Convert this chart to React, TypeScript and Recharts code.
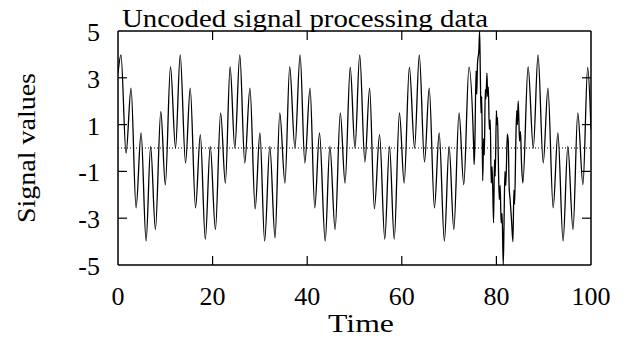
import React from 'react';
import { LineChart, Line, XAxis, YAxis, ReferenceLine } from 'recharts';

// Time stamps of the signal's turning points
const time: number[] = [
  0, 0.63, 1.7, 2.76, 3.82, 4.88, 5.94, 6.9, 7.91, 9.05, 10.0, 11.1,
  12.16, 13.15, 14.28, 15.27, 16.4, 17.4, 18.46, 19.5, 20.6, 21.7, 22.7, 23.7,
  24.7, 25.75, 26.8, 27.9, 29.0, 30.0, 31.0, 32.1, 33.2, 34.2, 35.3, 36.3,
  37.4, 38.5, 39.5, 40.6, 41.6, 42.6, 43.8, 44.8, 45.9, 47.0, 48.0, 49.1,
  50.1, 51.1, 52.2, 53.2, 54.2, 55.3, 56.4, 57.4, 58.4, 59.5, 60.5, 61.6,
  62.7, 63.7, 64.8, 65.8, 66.9, 67.9, 69.0, 70.0, 71.0, 72.1, 73.1, 74.2,
  75.2, 75.3, 75.45, 75.7, 75.85, 76.0, 76.3, 76.45, 76.6, 76.75, 76.9, 77.1,
  77.3, 77.45, 77.65, 77.8, 78.0, 78.15, 78.3, 78.5, 78.7, 78.9, 79.1, 79.4,
  79.6, 79.75, 80.0, 80.1, 80.25, 80.4, 80.6, 80.8, 81.0, 81.2, 81.45, 81.6,
  81.8, 82.0, 82.3, 82.5, 82.7, 82.9, 83.2, 83.5, 83.7, 83.85, 84.1, 84.3,
  84.45, 84.6, 84.75, 84.9, 85.1, 85.3, 85.6, 86.7, 87.8, 88.8, 89.9, 90.9,
  92.0, 93.0, 94.1, 95.1, 96.2, 97.2, 98.3, 99.3, 100,
];

// Signal values at those time stamps
const signal: number[] = [
  3.2, 3.98, -0.22, 2.56, -2.56, 0.64, -3.98, 0.07, -3.49, 1.56, -1.57, 3.48,
  0.0, 3.98, -0.64, 2.56, -2.56, 0.57, -3.9, 0.07, -3.49, 1.5, -1.5, 3.48,
  0.0, 3.98, -0.64, 2.56, -2.6, 0.64, -3.98, 0.07, -3.84, 1.5, -1.5, 3.48,
  0.0, 3.98, -0.64, 2.56, -2.56, 0.64, -3.98, 0.07, -3.49, 1.5, -1.5, 3.45,
  0.0, 3.98, -0.6, 2.56, -2.6, 0.57, -3.9, 0.07, -3.9, 1.5, -1.5, 3.45,
  0.0, 3.98, -0.6, 2.56, -2.56, 0.64, -3.98, 0.07, -3.49, 1.5, -1.57, 3.45,
  0.0, -0.7, 0.2, 3.3, 2.3, 3.6, 4.2, 5.0, 3.2, 1.5, 2.2, -1.4,
  0.4, -0.3, 2.5, 2.1, 3.2, 2.2, 2.6, 0.8, 1.2, -1.5, -0.8, -3.2,
  -0.5, -1.2, 1.6, 1.0, 1.3, -0.4, -2.2, -1.6, -3.2, -2.8, -5.0, -3.4,
  -1.0, -1.6, 0.6, 0.3, -1.7, -2.2, -3.1, -4.0, -1.8, -2.4, 0.2, 1.6,
  1.0, 2.0, 1.2, 0.3, 0.7, -0.6, -1.5, 3.48, 0.0, 3.98, -0.64, 2.56,
  -2.56, 0.64, -3.98, 0.07, -3.49, 1.5, -1.57, 3.45, 0.8,
];

const xTicks = [0, 20, 40, 60, 80, 100];
const yTicks = [-5, -3, -1, 1, 3, 5];
const xDomain = [0, 100];
const yDomain = [-5, 5];
const chartTitle = 'Uncoded  signal processing data';
const xLabel = 'Time';
const yLabel = 'Signal values';

const data = time.map((t, i) => ({ t, v: signal[i] }));

const FONT = "'Liberation Serif', 'Times New Roman', serif";
const TICK_LEN = 9;

const PAGE_MARGIN = 8;
const CHART_W = 610;
const CHART_H = 333;
const MARGIN = { top: 23, right: 27, bottom: 0, left: 0 };
const Y_AXIS_W = 110;
const X_AXIS_H = 76;
const PLOT_W = CHART_W - MARGIN.left - MARGIN.right - Y_AXIS_W;
const PLOT_H = CHART_H - MARGIN.top - MARGIN.bottom - X_AXIS_H;
// plot box in page coordinates (overlay svg sits at the page origin)
const BOX_L = PAGE_MARGIN + MARGIN.left + Y_AXIS_W;
const BOX_T = PAGE_MARGIN + MARGIN.top;
const BOX_R = BOX_L + PLOT_W;
const BOX_B = BOX_T + PLOT_H;
const frameX = (t: number) => BOX_L + ((t - xDomain[0]) / (xDomain[1] - xDomain[0])) * PLOT_W;
const frameY = (v: number) => BOX_B - ((v - yDomain[0]) / (yDomain[1] - yDomain[0])) * PLOT_H;

// tick length converted to data units so the marks go through the scales
const tickDy = (TICK_LEN * (yDomain[1] - yDomain[0])) / PLOT_H;
const tickDx = (TICK_LEN * (xDomain[1] - xDomain[0])) / PLOT_W;
const innerXTicks = xTicks.filter((t) => t > xDomain[0] && t < xDomain[1]);
const innerYTicks = yTicks.filter((t) => t > yDomain[0] && t < yDomain[1]);

function BottomTick(props: any) {
  const { x, y, payload } = props;
  return (
    <text x={x} y={y + 40} textAnchor="middle" fontFamily={FONT} fontSize={26} fill="#000">
      {payload.value}
    </text>
  );
}

function LeftTick(props: any) {
  const { x, y, payload } = props;
  return (
    <text x={x - 18} y={y + 10} textAnchor="end" fontFamily={FONT} fontSize={26} fill="#000">
      {payload.value}
    </text>
  );
}

export default function App() {
  return (
    <div style={{ position: 'relative', width: CHART_W, height: CHART_H }}>
      <svg
        width={626}
        height={341}
        style={{ position: 'absolute', left: -PAGE_MARGIN, top: -PAGE_MARGIN, pointerEvents: 'none' }}
      >
        {/* frame: top and right edges with their inward ticks */}
        <line x1={BOX_L} y1={BOX_T} x2={BOX_R} y2={BOX_T} stroke="#000" strokeWidth={1.5} />
        <line x1={BOX_R} y1={BOX_T} x2={BOX_R} y2={BOX_B} stroke="#000" strokeWidth={1.5} />
        {innerXTicks.map((t) => (
          <line
            key={`ft${t}`}
            x1={frameX(t)}
            y1={BOX_T}
            x2={frameX(t)}
            y2={BOX_T + TICK_LEN}
            stroke="#000"
            strokeWidth={1.2}
          />
        ))}
        {innerYTicks.map((v) => (
          <line
            key={`fr${v}`}
            x1={BOX_R}
            y1={frameY(v)}
            x2={BOX_R - TICK_LEN}
            y2={frameY(v)}
            stroke="#000"
            strokeWidth={1.2}
          />
        ))}
        <text x={122} y={27} fontFamily={FONT} fontSize={26} fill="#000" textLength={366} lengthAdjust="spacingAndGlyphs">
          {chartTitle}
        </text>
        <text
          x={361}
          y={332}
          textAnchor="middle"
          fontFamily={FONT}
          fontSize={26}
          fill="#000"
          textLength={66}
          lengthAdjust="spacingAndGlyphs"
        >
          {xLabel}
        </text>
        <text
          x={0}
          y={0}
          transform="translate(35,148) rotate(-90)"
          textAnchor="middle"
          fontFamily={FONT}
          fontSize={26}
          fill="#000"
          textLength={150}
          lengthAdjust="spacingAndGlyphs"
        >
          {yLabel}
        </text>
      </svg>
      <LineChart width={CHART_W} height={CHART_H} data={data} margin={MARGIN}>
        <XAxis
          dataKey="t"
          type="number"
          domain={xDomain}
          ticks={xTicks}
          interval={0}
          height={X_AXIS_H}
          tickSize={0}
          tickMargin={0}
          tickLine={false}
          tick={<BottomTick />}
          axisLine={{ stroke: '#000', strokeWidth: 1.5 }}
          allowDataOverflow
        />
        <YAxis
          type="number"
          domain={yDomain}
          ticks={yTicks}
          interval={0}
          width={Y_AXIS_W}
          tickSize={0}
          tickMargin={0}
          tickLine={false}
          tick={<LeftTick />}
          axisLine={{ stroke: '#000', strokeWidth: 1.5 }}
          allowDataOverflow
        />
        {innerXTicks.map((t) => (
          <ReferenceLine
            key={`xb${t}`}
            segment={[{ x: t, y: yDomain[0] }, { x: t, y: yDomain[0] + tickDy }]}
            stroke="#000"
            strokeWidth={1.2}
            ifOverflow="visible"
          />
        ))}
        {innerYTicks.map((v) => (
          <ReferenceLine
            key={`yl${v}`}
            segment={[{ x: xDomain[0], y: v }, { x: xDomain[0] + tickDx, y: v }]}
            stroke="#000"
            strokeWidth={1.2}
            ifOverflow="visible"
          />
        ))}
        <ReferenceLine y={0} stroke="#000" strokeWidth={1} strokeDasharray="1 2" ifOverflow="visible" />
        <Line
          dataKey="v"
          type="monotone"
          stroke="#000"
          strokeWidth={1.3}
          dot={false}
          activeDot={false}
          isAnimationActive={false}
        />
      </LineChart>
    </div>
  );
}
